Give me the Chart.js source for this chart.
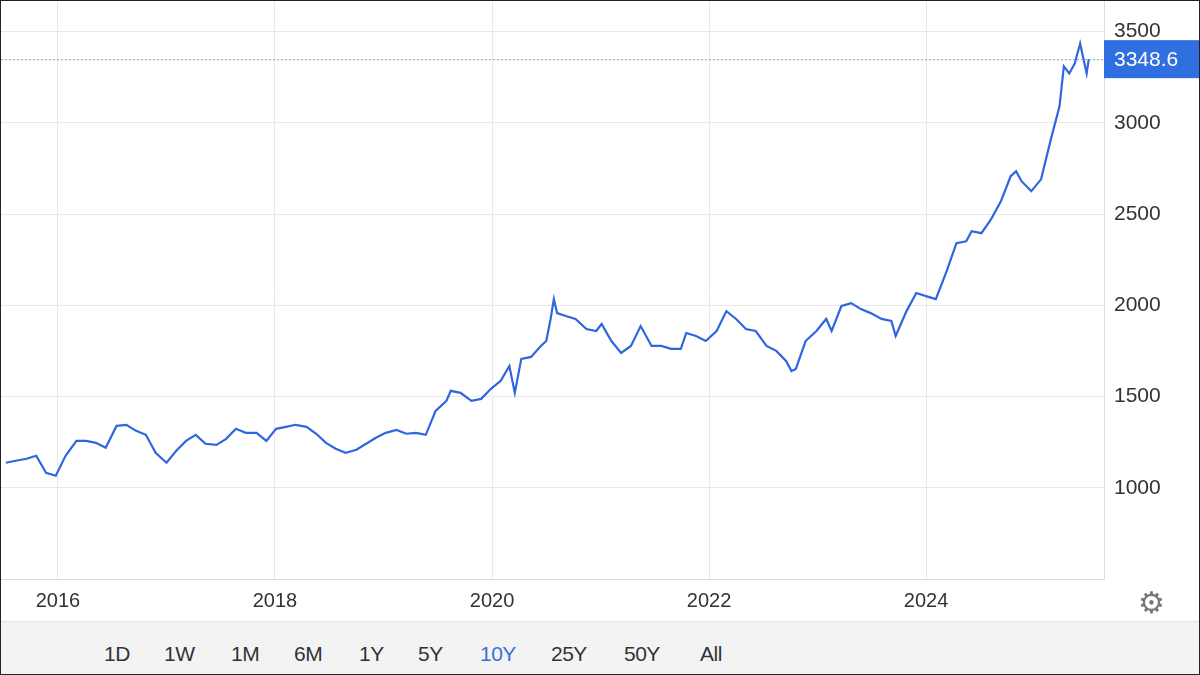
<!DOCTYPE html>
<html><head><meta charset="utf-8">
<script src="https://cdn.jsdelivr.net/npm/chart.js@4"></script>
<style>
html,body{margin:0;padding:0;background:#fff;font-family:"Liberation Sans",Arial,sans-serif;}
#wrap{position:relative;width:1198px;height:673px;border:1px solid #222;overflow:hidden;}
#cv{position:absolute;left:0;top:-22px;}
#bar{position:absolute;left:0;top:620px;width:1198px;height:53px;background:#f3f3f3;border-top:1px solid #e4e4e4;}
#bar span{position:absolute;top:20px;font-size:21px;color:#333;letter-spacing:-0.5px}
#gear{position:absolute;left:1137px;top:584px;font-size:30px;color:#777;}
</style></head><body>
<div id="wrap">
<canvas id="cv" width="1198" height="642"></canvas>
<div id="gear">⚙</div>
<div id="bar"></div>
</div>
<script>
const dates=[2015.52,2015.61,2015.71,2015.80,2015.89,2015.98,2016.07,2016.17,2016.26,2016.35,2016.44,2016.54,2016.63,2016.72,2016.81,2016.90,2017.00,2017.09,2017.18,2017.27,2017.36,2017.46,2017.55,2017.64,2017.73,2017.83,2017.92,2018.01,2018.10,2018.19,2018.29,2018.38,2018.47,2018.56,2018.65,2018.75,2018.84,2018.93,2019.02,2019.12,2019.21,2019.30,2019.39,2019.48,2019.58,2019.62,2019.71,2019.81,2019.90,2019.99,2020.08,2020.16,2020.21,2020.27,2020.36,2020.45,2020.50,2020.54,2020.57,2020.60,2020.68,2020.77,2020.87,2020.96,2021.01,2021.10,2021.19,2021.28,2021.37,2021.47,2021.56,2021.65,2021.74,2021.79,2021.88,2021.97,2022.07,2022.16,2022.25,2022.34,2022.43,2022.53,2022.62,2022.71,2022.76,2022.80,2022.89,2022.99,2023.08,2023.13,2023.22,2023.31,2023.40,2023.49,2023.59,2023.68,2023.72,2023.82,2023.91,2024.00,2024.09,2024.19,2024.28,2024.37,2024.42,2024.51,2024.60,2024.69,2024.78,2024.83,2024.88,2024.97,2025.06,2025.15,2025.23,2025.27,2025.32,2025.37,2025.42,2025.48,2025.50];
const prices=[1137,1148,1159,1175,1082,1066,1175,1257,1257,1246,1219,1339,1345,1312,1290,1192,1137,1203,1257,1290,1241,1235,1268,1323,1301,1301,1257,1323,1334,1345,1334,1296,1246,1214,1192,1208,1241,1274,1301,1317,1296,1301,1290,1421,1476,1531,1520,1476,1487,1542,1586,1667,1520,1706,1717,1777,1804,1925,2034,1957,1941,1925,1870,1859,1897,1804,1739,1777,1886,1777,1777,1761,1761,1848,1832,1804,1859,1968,1925,1870,1859,1777,1750,1695,1640,1651,1804,1859,1925,1859,1996,2012,1979,1957,1925,1914,1832,1968,2067,2050,2034,2187,2340,2351,2406,2395,2472,2570,2707,2734,2680,2625,2690,2909,3090,3309,3270,3325,3434,3270,3348.6];
const yTicks=[1000,1500,2000,2500,3000,3500];
const xTicks=[2016,2018,2020,2022,2024];
const ranges=["1D","1W","1M","6M","1Y","5Y","10Y","25Y","50Y","All"];
const lastLabel="3348.6";

const bar=document.getElementById('bar');
const rx=[103,163,230,293,358,417,479,550,623,699];
ranges.forEach((r,i)=>{const s=document.createElement('span');s.textContent=r;s.style.left=rx[i]+'px';if(r==='10Y')s.style.color='#3b6fd8';bar.appendChild(s);});

const lastPlugin={id:'last',afterDraw(c){const ctx=c.ctx,a=c.chartArea,y=c.scales.y.getPixelForValue(prices[prices.length-1]);
ctx.save();ctx.setLineDash([2,2]);ctx.strokeStyle='#8aa0c8';ctx.lineWidth=1;ctx.beginPath();ctx.moveTo(a.left,y+0.5);ctx.lineTo(a.right,y+0.5);ctx.stroke();
ctx.setLineDash([]);ctx.fillStyle='#2f6fe0';ctx.fillRect(a.right,y-19,97,38);ctx.fillStyle='#fff';ctx.font='21px "Liberation Sans",Arial';ctx.textBaseline='middle';ctx.fillText(lastLabel,a.right+10,y+1);ctx.restore();}};

new Chart(document.getElementById('cv'),{type:'line',
data:{datasets:[{data:dates.map((d,i)=>({x:d,y:prices[i]})),borderColor:'#2f66e0',borderWidth:2.2,pointRadius:0,tension:0}]},
options:{responsive:false,animation:false,layout:{padding:0},plugins:{legend:{display:false},tooltip:{enabled:false}},
scales:{
x:{type:'linear',min:2015.475,max:2025.64,afterBuildTicks(s){s.ticks=xTicks.map(v=>({value:v}));},afterFit(s){s.height=42;},
ticks:{color:'#333',font:{size:20,family:'"Liberation Sans",Arial'},padding:10,maxRotation:0,callback:v=>String(v)},
grid:{color:'#e8e8e8',drawTicks:false},border:{color:'#ddd'}},
y:{position:'right',min:500,max:3664,afterBuildTicks(s){s.ticks=yTicks.map(v=>({value:v}));},afterFit(s){s.width=95;},
ticks:{color:'#333',font:{size:21,family:'"Liberation Sans",Arial'},padding:10,callback:v=>String(v)},
grid:{color:'#e8e8e8',drawTicks:false},border:{color:'#ddd'}}}},
plugins:[lastPlugin]});
</script></body></html>
